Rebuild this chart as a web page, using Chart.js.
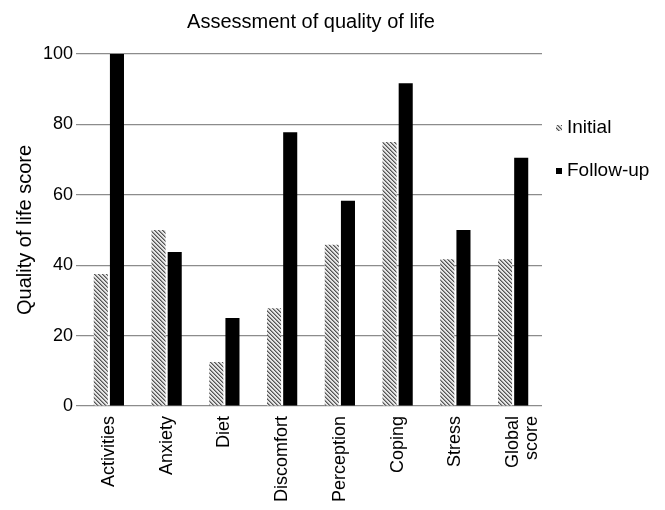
<!DOCTYPE html>
<html>
<head>
<meta charset="utf-8">
<script src="https://cdn.jsdelivr.net/npm/chart.js@4/dist/chart.umd.min.js"></script>
<style>
  html, body { margin: 0; padding: 0; background: #fff; }
</style>
</head>
<body>
<canvas id="chart" width="665" height="510"></canvas>
<script>
// chart values
const categories = ['Activities', 'Anxiety', 'Diet', 'Discomfort', 'Perception', 'Coping', 'Stress', ['Global', 'score']];
const initial = [37.5, 50, 12.5, 27.8, 45.8, 75, 41.7, 41.7];
const followUp = [100, 43.75, 25, 77.8, 58.3, 91.7, 50, 70.5];
const yTicks = [0, 20, 40, 60, 80, 100];
const seriesNames = ['Initial', 'Follow-up'];

const FONT = "'Liberation Sans', Arial, Helvetica, sans-serif";

// diagonal hatch for the "Initial" bars
function makeHatch() {
  let c = document.createElement('canvas');
  c.width = 4; c.height = 4;
  let g = c.getContext('2d');
  g.fillStyle = '#e6e6e6';
  g.fillRect(0, 0, 4, 4);
  for (let i = 0; i < 4; i++) {
    g.fillStyle = '#555';
    g.fillRect(i, i, 1, 1);
    g.fillStyle = '#999';
    g.fillRect((i + 1) % 4, i, 1, 1);
  }
  return g.createPattern(c, 'repeat');
}
const hatch = makeHatch();

// legend drawn at the right of the plot
const sideLegend = {
  id: 'sideLegend',
  afterDraw(chart) {
    let ctx = chart.ctx;
    let x = chart.chartArea.right + 14;
    let rows = [128, 171];
    ctx.save();
    ctx.font = '19px ' + FONT;
    ctx.textBaseline = 'middle';
    chart.data.datasets.forEach((ds, i) => {
      let y = rows[i];
      ctx.fillStyle = ds.backgroundColor;
      ctx.fillRect(x, y - 3, 6, 6);
      ctx.fillStyle = '#000';
      ctx.fillText(ds.label, x + 11, y);
    });
    ctx.restore();
  }
};

new Chart(document.getElementById('chart'), {
  type: 'bar',
  data: {
    labels: categories,
    datasets: [
      { label: seriesNames[0], data: initial, backgroundColor: hatch },
      { label: seriesNames[1], data: followUp, backgroundColor: '#000' }
    ]
  },
  options: {
    responsive: false,
    animation: false,
    devicePixelRatio: 1,
    layout: { padding: { left: 0, right: 123, top: 0, bottom: 0 } },
    datasets: {
      bar: { categoryPercentage: 0.56, barPercentage: 0.87, borderWidth: 0 }
    },
    plugins: {
      legend: { display: false },
      tooltip: { enabled: false },
      title: {
        display: true,
        fullSize: false,
        text: 'Assessment of quality of life',
        color: '#000',
        font: { family: FONT, size: 20, weight: 'normal' },
        padding: { top: 10, bottom: 20 }
      }
    },
    scales: {
      x: {
        afterFit: (scale) => { scale.height = 104; },
        grid: { display: false },
        border: { display: false },
        ticks: {
          color: '#000',
          font: { family: FONT, size: 18, lineHeight: 1.05 },
          minRotation: 90,
          maxRotation: 90,
          autoSkip: false,
          padding: 2
        }
      },
      y: {
        min: 0,
        max: 100,
        afterBuildTicks: (scale) => { scale.ticks = yTicks.map(v => ({ value: v })); },
        afterFit: (scale) => { scale.width = 80; },
        grid: { color: '#8c8c8c', lineWidth: 1.2, drawTicks: true, tickLength: 4 },
        border: { display: false },
        ticks: {
          color: '#000',
          font: { family: FONT, size: 18 },
          padding: 3
        },
        title: {
          display: true,
          text: 'Quality of life score',
          color: '#000',
          font: { family: FONT, size: 20 },
          padding: { top: 13, bottom: 0 }
        }
      }
    }
  },
  plugins: [sideLegend]
});
</script>
</body>
</html>
